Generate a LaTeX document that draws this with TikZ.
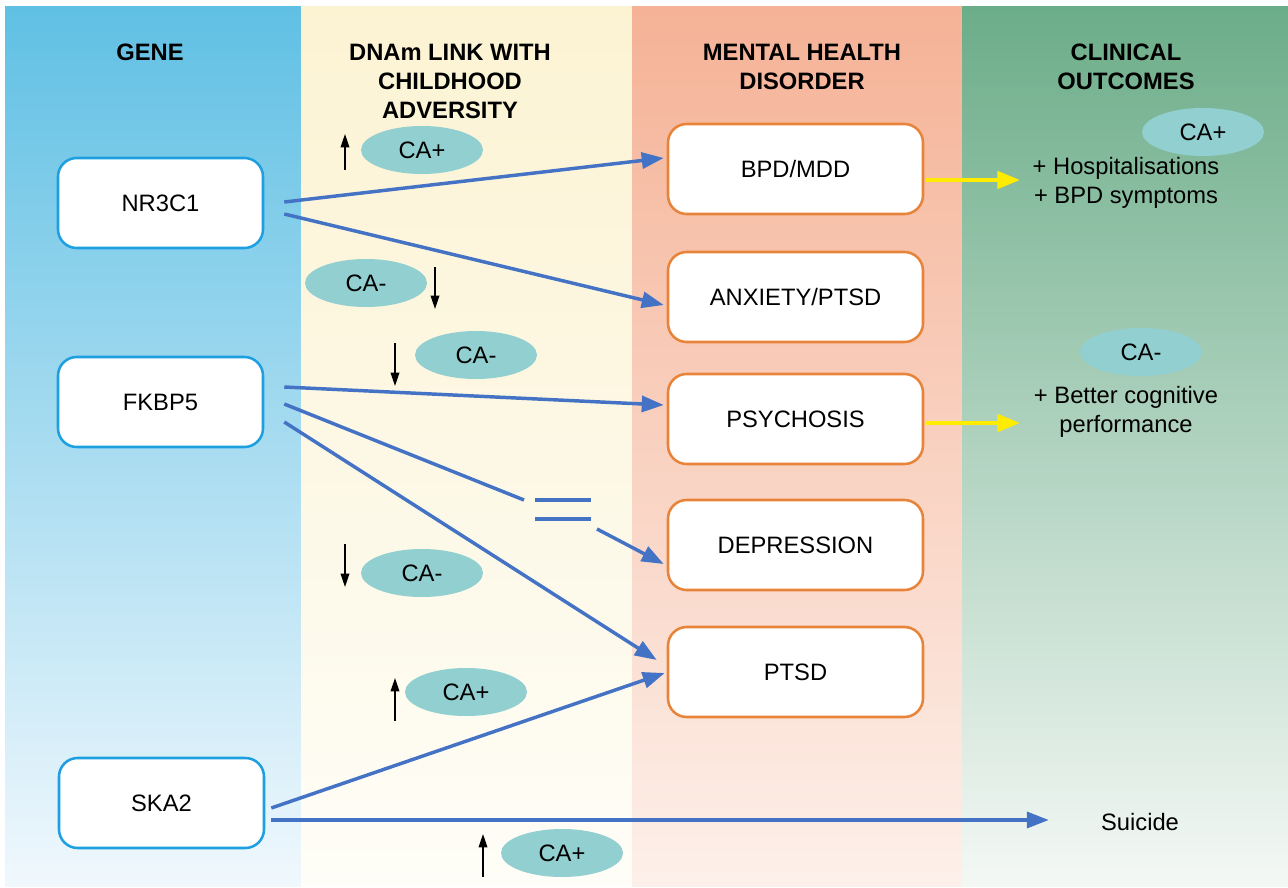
\documentclass[tikz,border=0pt]{standalone}
\usepackage{fontspec}
\setmainfont{Liberation Sans}
\usetikzlibrary{arrows.meta,calc,shapes.geometric}
\definecolor{bluetop}{RGB}{96,192,228}
\definecolor{bluebot}{RGB}{240,248,253}
\definecolor{creamtop}{RGB}{252,243,211}
\definecolor{creambot}{RGB}{254,253,247}
\definecolor{salmontop}{RGB}{245,178,150}
\definecolor{salmonbot}{RGB}{253,240,234}
\definecolor{greentop}{RGB}{108,173,137}
\definecolor{greenbot}{RGB}{244,248,245}
\definecolor{geneborder}{RGB}{30,160,224}
\definecolor{disborder}{RGB}{232,131,58}
\definecolor{tealfill}{RGB}{145,207,208}
\definecolor{linkblue}{RGB}{68,114,196}
\definecolor{yel}{RGB}{255,236,0}
\begin{document}
\begin{tikzpicture}[x=0.75pt,y=-0.75pt,
  every node/.style={font=\fontsize{17.8}{21.75}\selectfont},
  hdr/.style={font=\bfseries\fontsize{17.8}{21.75}\selectfont, align=center, inner sep=0pt},
  genebox/.style={draw=geneborder, line width=1.9pt, fill=white, rounded corners=14pt, minimum width=153.75pt, minimum height=67.5pt, inner sep=0pt},
  disbox/.style={draw=disborder, line width=1.9pt, fill=white, rounded corners=14pt, minimum width=191.25pt, minimum height=67.5pt, inner sep=0pt},
  caell/.style={ellipse, fill=tealfill, minimum width=91.5pt, minimum height=36pt, inner sep=0pt},
  bluelink/.style={draw=linkblue, line width=2.6pt, -{Triangle[length=16.5pt,width=12pt]}},
  bluelinkplain/.style={draw=linkblue, line width=2.6pt},
  yarrow/.style={draw=yel, line width=2.8pt, -{Triangle[length=17pt,width=13pt]}},
  indarrow/.style={draw=black, line width=1pt, -{Triangle[length=10pt,width=6.5pt]}},
  outtxt/.style={align=center, inner sep=0pt}
]
\useasboundingbox (0,0) rectangle (1288,888);
\fill[white] (0,0) rectangle (1288,888);
% columns
\shade[top color=bluetop, bottom color=bluebot] (5,7) rectangle (301,886);
\shade[top color=creamtop, bottom color=creambot] (301,7) rectangle (632,886);
\shade[top color=salmontop, bottom color=salmonbot] (632,7) rectangle (962,886);
\shade[top color=greentop, bottom color=greenbot] (962,7) rectangle (1288,886);
% headers
\node[hdr] (h1) at (150,52) {GENE};
\node[hdr] (h2) at (450,81) {DNAm LINK WITH\\CHILDHOOD\\ADVERSITY};
\node[hdr] (h3) at (802,66.5) {MENTAL HEALTH\\DISORDER};
\node[hdr] (h4) at (1126,66.5) {CLINICAL\\OUTCOMES};
% gene boxes
\node[genebox] (nr) at (160.5,203) {NR3C1};
\node[genebox] (fk) at (160.5,402) {FKBP5};
\node[genebox] (ska) at (161.5,803) {SKA2};
% disorder boxes
\node[disbox] (bpd) at (795.5,169) {BPD/MDD};
\node[disbox] (anx) at (795.5,297) {ANXIETY/PTSD};
\node[disbox] (psy) at (795.5,419) {PSYCHOSIS};
\node[disbox] (dep) at (795.5,545) {DEPRESSION};
\node[disbox] (ptsd) at (795.5,672) {PTSD};
% outcomes
\node[outtxt] (out1) at (1126,182.5) {+ Hospitalisations\\+ BPD symptoms};
\node[outtxt] (out2) at (1126,411.5) {+ Better cognitive\\performance};
\node[inner sep=0pt] (sui) at (1140,822) {Suicide};
% CA ellipses
\node[caell] (e1) at (422,150) {CA+};
\node[caell] (e2) at (366,283) {CA-};
\node[caell] (e3) at (476,355) {CA-};
\node[caell] (e4) at (422,573) {CA-};
\node[caell] (e5) at (466,692) {CA+};
\node[caell] (e6) at (562,853) {CA+};
\node[caell] (e7) at (1203,132) {CA+};
\node[caell] (e8) at (1141,352) {CA-};
% up/down indicators
\draw[indarrow] (345,170) -- (345,134);
\draw[indarrow] (435,267) -- (435,309);
\draw[indarrow] (395,343) -- (395,386);
\draw[indarrow] (345,544) -- (345,587);
\draw[indarrow] (395,721) -- (395,678);
\draw[indarrow] (483,877) -- (483,834);
% links
\draw[bluelink] ($(nr.east)+(20,-1)$) -- ($(bpd.west)+(-3,-11)$);
\draw[bluelink] ($(nr.east)+(20,11)$) -- ($(anx.west)+(-3,8)$);
\draw[bluelink] ($(fk.east)+(20,-15)$) -- ($(psy.west)+(-3,-14)$);
\coordinate (brk1) at (524,500);
\coordinate (brk2) at (597,529);
\draw[bluelinkplain] ($(fk.east)+(20,2)$) -- (brk1);
\draw[bluelinkplain] (535,500) -- (591,500);
\draw[bluelinkplain] (535,519) -- (591,519);
\draw[bluelink] (brk2) -- ($(dep.west)+(-3,19)$);
\draw[bluelink] ($(fk.east)+(20,20)$) -- ($(ptsd.west)+(-10,-12)$);
\draw[bluelink] ($(ska.east)+(6,5)$) -- ($(ptsd.west)+(-2,1)$);
\draw[bluelink] ($(ska.east)+(6,17)$) -- ($(sui.west)+(-52,-2)$);
% yellow
\coordinate (y1) at (1020,180);
\coordinate (y2) at (1020,423);
\draw[yarrow] ($(bpd.east)+(2,11)$) -- (y1);
\draw[yarrow] ($(psy.east)+(2,4)$) -- (y2);
\end{tikzpicture}
\end{document}
